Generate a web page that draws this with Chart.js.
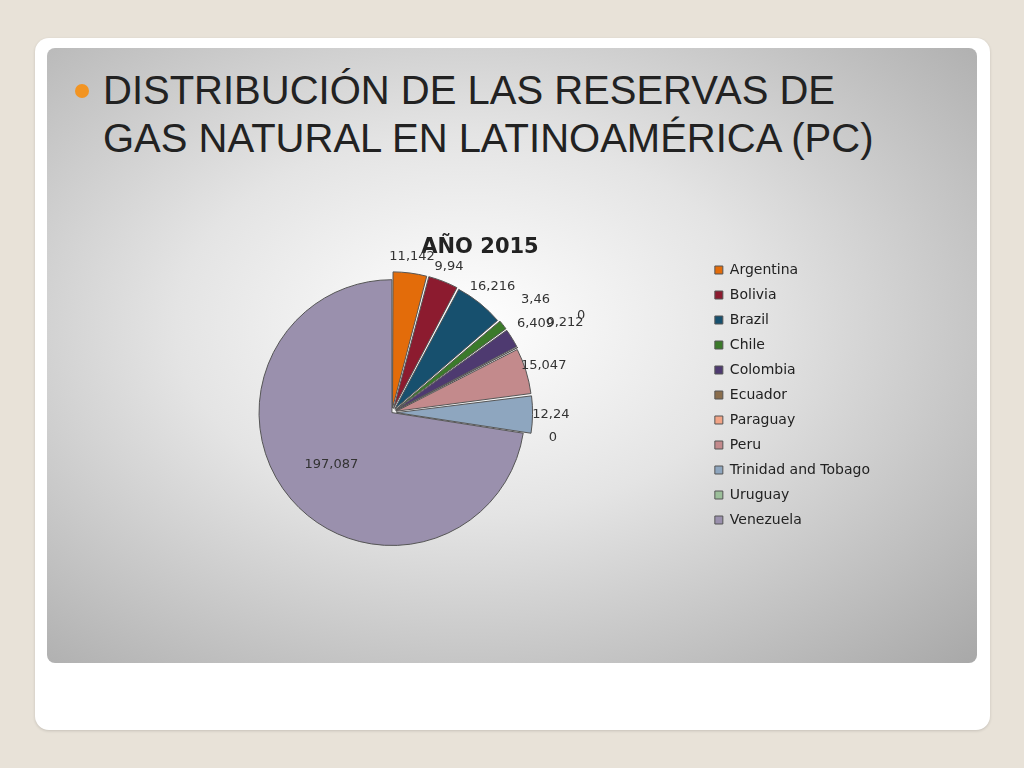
<!DOCTYPE html>
<html>
<head>
<meta charset="utf-8">
<script src="https://cdn.jsdelivr.net/npm/chart.js@4/dist/chart.umd.min.js"></script>
<style>
  body { margin:0; width:1024px; height:768px; background:#e8e2d8; font-family:"DejaVu Sans", sans-serif; overflow:hidden; }
  #card { position:absolute; left:35px; top:38px; width:955px; height:692px; background:#fff; border-radius:14px; box-shadow:0 1px 3px rgba(0,0,0,0.15); }
  #panel { position:absolute; left:47px; top:48px; width:930px; height:615px; border-radius:8px;
           background:radial-gradient(ellipse at 45% 45%, #ffffff 0%, #e4e4e4 40%, #a8a8a8 100%); }
  #head { position:absolute; left:103px; top:66px; font-family:"Liberation Sans", Arial, sans-serif; font-size:40px; line-height:48px; color:#222; }
  #dot { position:absolute; left:75px; top:84px; width:14px; height:14px; border-radius:7px; background:#f29422; }
  #wrap { position:absolute; left:60px; top:195px; width:820px; height:400px; }
</style>
</head>
<body>
<div id="card"></div>
<div id="panel"></div>
<div id="dot"></div>
<div id="head">DISTRIBUCIÓN DE LAS RESERVAS DE<br>GAS NATURAL EN LATINOAMÉRICA (PC)</div>
<div id="wrap"><canvas id="pie"></canvas></div>
<script>
// countries and reserves, year 2015
const countries = ['Argentina', 'Bolivia', 'Brazil', 'Chile', 'Colombia', 'Ecuador', 'Paraguay', 'Peru', 'Trinidad and Tobago', 'Uruguay', 'Venezuela'];
const reserves = [11.142, 9.94, 16.216, 3.46, 6.409, 0.212, 0, 15.047, 12.24, 0, 197.087];
const labelsText = ['11,142', '9,94', '16,216', '3,46', '6,409', '0,212', '0', '15,047', '12,24', '0', '197,087'];
const colors = ['#e36c0a', '#8c1b2f', '#17506e', '#3b7a2a', '#4e3a70', '#8a6d4c', '#f2a486', '#c38a8c', '#8ea6bf', '#9cbf9a', '#9a90ad'];

// small slices get their label pushed further out so they don't collide
const labelDist = [24, 24, 28, 50, 36, 62, 80, 26, 26, 30, 0];

// draws value labels next to each slice
const valueLabels = {
  id: 'valueLabels',
  afterDatasetsDraw(chart) {
    const ctx = chart.ctx;
    const meta = chart.getDatasetMeta(0);
    ctx.save();
    ctx.font = '13px "DejaVu Sans"';
    ctx.fillStyle = '#333';
    ctx.textAlign = 'center';
    ctx.textBaseline = 'middle';
    meta.data.forEach((arc, i) => {
      const p = arc.getProps(['x', 'y', 'startAngle', 'endAngle', 'outerRadius'], true);
      const mid = (p.startAngle + p.endAngle) / 2;
      const r = i === 10 ? p.outerRadius * 0.6 : p.outerRadius + labelDist[i];
      ctx.fillText(labelsText[i], p.x + Math.cos(mid) * r, p.y + Math.sin(mid) * r);
    });
    ctx.restore();
  }
};

new Chart(document.getElementById('pie'), {
  type: 'pie',
  data: {
    labels: countries,
    datasets: [{
      data: reserves,
      backgroundColor: colors,
      borderColor: '#555',
      borderWidth: 1,
      offset: [18, 18, 18, 18, 18, 18, 18, 18, 18, 18, 0]
    }]
  },
  options: {
    responsive: true,
    maintainAspectRatio: false,
    animation: false,
    layout: { padding: { top: 40, bottom: 40, left: 20 } },
    plugins: {
      title: { display: true, text: 'AÑO 2015', color: '#222', font: { family: 'DejaVu Sans', size: 21, weight: 'bold' }, padding: { bottom: 10 } },
      legend: {
        position: 'right',
        labels: { boxWidth: 8, boxHeight: 8, color: '#222', font: { family: 'DejaVu Sans', size: 14 }, padding: 11 }
      },
      tooltip: { enabled: false }
    }
  },
  plugins: [valueLabels]
});
</script>
</body>
</html>
